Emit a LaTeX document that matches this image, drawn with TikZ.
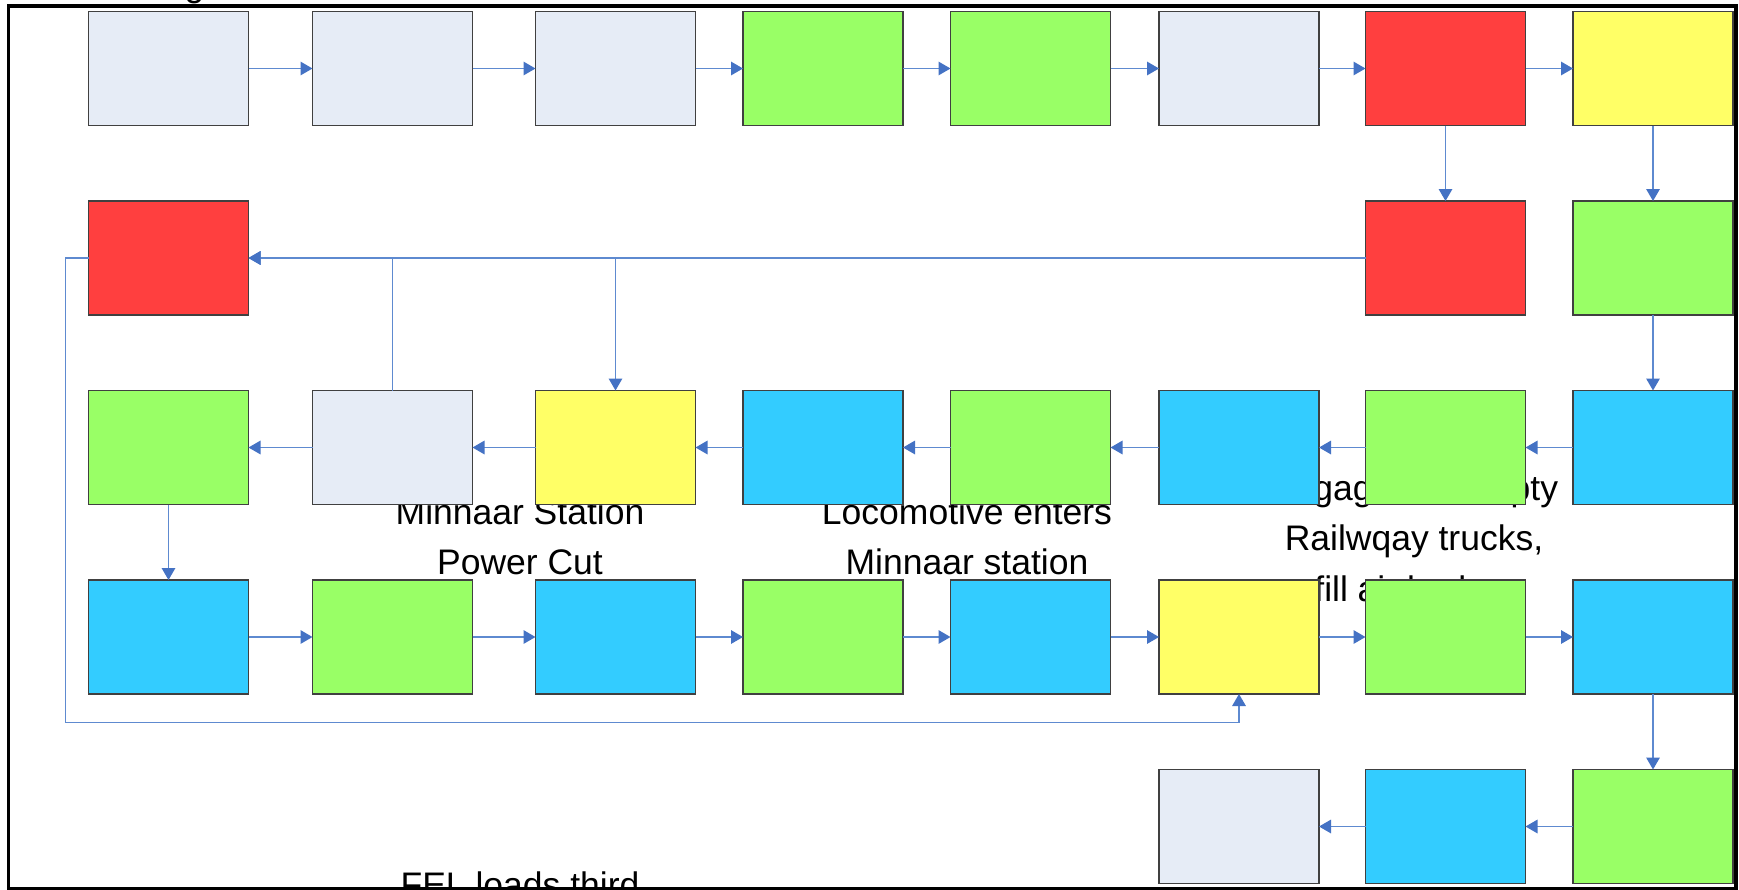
\documentclass[tikz,border=0pt]{standalone}
\usepackage{fontspec}
\setmainfont{Liberation Sans}
\usetikzlibrary{arrows.meta}
\definecolor{cgrey}{HTML}{E6ECF6}
\definecolor{cgreen}{HTML}{99FF66}
\definecolor{cred}{HTML}{FF3F3F}
\definecolor{cyellow}{HTML}{FFFF66}
\definecolor{ccyan}{HTML}{33CCFF}
\definecolor{linkblue}{HTML}{5E8AD0}
\definecolor{tipblue}{HTML}{4472C4}
\begin{document}
\begin{tikzpicture}[x=1pt,y=-1pt,
  box/.style={draw=black!75, line width=1.2pt, minimum width=160pt, minimum height=114pt, inner sep=0pt, outer sep=0pt, anchor=north west},
  conn/.style={draw=linkblue, line width=1.5pt, -{Triangle[length=12pt,width=13.5pt,color=tipblue]}},
  lbl/.style={font=\fontsize{35.5}{50.5}\selectfont, align=center, anchor=base, inner sep=0pt}]
\useasboundingbox (0,0) rectangle (1739,889);
\clip (0,0) rectangle (1739,889);
\fill[white] (0,0) rectangle (1739,889);
% texts (behind boxes); base anchor = baseline of last line
\node[lbl] (title) at (194.5,-4) {g};
\node[lbl] (t1) at (520,574.5) {Minnaar Station\\Power Cut};
\node[lbl] (t2) at (967,574.5) {Locomotive enters\\Minnaar station};
\node[lbl] (t3) at (1414,601) {Engage the empty\\Railwqay trucks,\\fill air brakes};
\node[lbl] (t4) at (520,897) {FEL loads third};
% row 1
\node[box, fill=cgrey]   (b11) at (88.5,11.5) {};
\node[box, fill=cgrey]   (b12) at (312.5,11.5) {};
\node[box, fill=cgrey]   (b13) at (535.5,11.5) {};
\node[box, fill=cgreen]  (b14) at (743,11.5) {};
\node[box, fill=cgreen]  (b15) at (950.5,11.5) {};
\node[box, fill=cgrey]   (b16) at (1159,11.5) {};
\node[box, fill=cred]    (b17) at (1365.5,11.5) {};
\node[box, fill=cyellow] (b18) at (1573,11.5) {};
% row 2
\node[box, fill=cred]    (b21) at (88.5,201) {};
\node[box, fill=cred]    (b27) at (1365.5,201) {};
\node[box, fill=cgreen]  (b28) at (1573,201) {};
% row 3
\node[box, fill=cgreen]  (b31) at (88.5,390.5) {};
\node[box, fill=cgrey]   (b32) at (312.5,390.5) {};
\node[box, fill=cyellow] (b33) at (535.5,390.5) {};
\node[box, fill=ccyan]   (b34) at (743,390.5) {};
\node[box, fill=cgreen]  (b35) at (950.5,390.5) {};
\node[box, fill=ccyan]   (b36) at (1159,390.5) {};
\node[box, fill=cgreen]  (b37) at (1365.5,390.5) {};
\node[box, fill=ccyan]   (b38) at (1573,390.5) {};
% row 4
\node[box, fill=ccyan]   (b41) at (88.5,580) {};
\node[box, fill=cgreen]  (b42) at (312.5,580) {};
\node[box, fill=ccyan]   (b43) at (535.5,580) {};
\node[box, fill=cgreen]  (b44) at (743,580) {};
\node[box, fill=ccyan]   (b45) at (950.5,580) {};
\node[box, fill=cyellow] (b46) at (1159,580) {};
\node[box, fill=cgreen]  (b47) at (1365.5,580) {};
\node[box, fill=ccyan]   (b48) at (1573,580) {};
% row 5
\node[box, fill=cgrey]   (b56) at (1159,769.5) {};
\node[box, fill=ccyan]   (b57) at (1365.5,769.5) {};
\node[box, fill=cgreen]  (b58) at (1573,769.5) {};
% connectors row 1
\foreach \a/\b in {b11/b12,b12/b13,b13/b14,b14/b15,b15/b16,b16/b17,b17/b18}
  \draw[conn] (\a.east) -- (\b.west);
\draw[conn] (b17.south) -- (b27.north);
\draw[conn] (b18.south) -- (b28.north);
\draw[conn] (b28.south) -- (b38.north);
% row 3 (leftward)
\foreach \a/\b in {b38/b37,b37/b36,b36/b35,b35/b34,b34/b33,b33/b32,b32/b31}
  \draw[conn] (\a.west) -- (\b.east);
\draw[conn] (b31.south) -- (b41.north);
% row 4
\foreach \a/\b in {b41/b42,b42/b43,b43/b44,b44/b45,b45/b46,b46/b47,b47/b48}
  \draw[conn] (\a.east) -- (\b.west);
\draw[conn] (b48.south) -- (b58.north);
\draw[conn] (b58.west) -- (b57.east);
\draw[conn] (b57.west) -- (b56.east);
% row 2 links
\draw[conn] (b27.west) -- (b21.east);
\draw[conn] (b27.west) -| (b33.north);
\draw[conn] (b32.north) |- (b21.east);
\draw[conn] (b21.west) -| (65.5,722.5) -| (b46.south);
% frame
\draw[line width=3.5pt] (8.5,5.8) rectangle (1736,888.5);
\end{tikzpicture}
\end{document}
